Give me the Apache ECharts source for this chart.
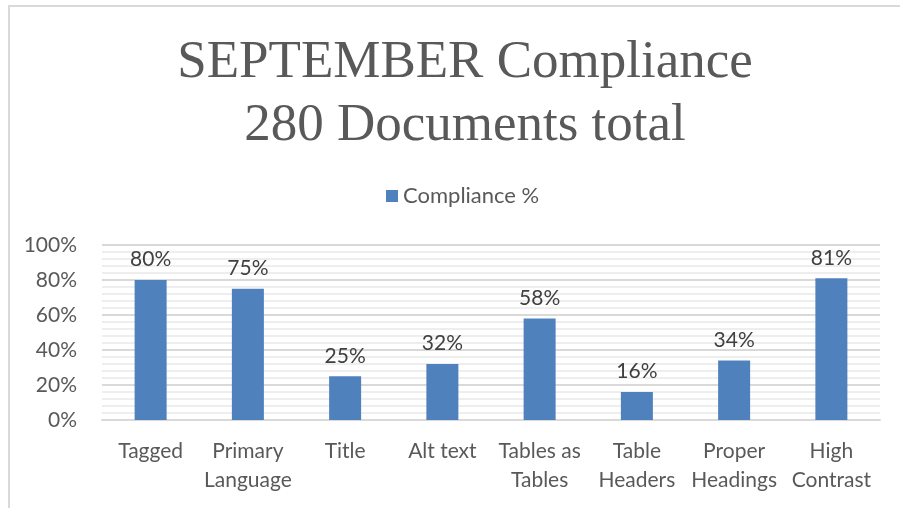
<!DOCTYPE html>
<html>
<meta charset="utf-8" />
<head>
  <script src="https://cdn.jsdelivr.net/npm/echarts@6.0.0/dist/echarts.min.js"></script>
  <style>
    html, body { margin: 0; padding: 0; background: #fff; }
    #chart { width: 900px; height: 508px; }
  </style>
</head>
<body>
  <div id="chart"></div>
  <script>
    // data
    const categories = ["Tagged", "Primary\nLanguage", "Title", "Alt text", "Tables as\nTables", "Table\nHeaders", "Proper\nHeadings", "High\nContrast"];
    const compliance = [80, 75, 25, 32, 58, 16, 34, 81];
    const seriesName = "Compliance %";
    const titleLines = ["SEPTEMBER Compliance", "280 Documents total"];

    const labelFont = "Lato, 'Open Sans', sans-serif";
    const myChart = echarts.init(document.getElementById("chart"));
    const option = {
      animation: false,
      textStyle: { fontFamily: labelFont },
      graphic: [{
        type: "rect",
        shape: { x: 9, y: 6, width: 900, height: 520 },
        style: { fill: "none", stroke: "#d9d9d9", lineWidth: 2 },
        silent: true
      }],
      title: {
        text: titleLines.join("\n"),
        left: 460,
        top: 27,
        textAlign: "center",
        textStyle: {
          fontFamily: "'Liberation Serif', serif",
          fontWeight: "normal",
          fontSize: 53,
          lineHeight: 63,
          color: "#595959"
        }
      },
      legend: {
        data: [seriesName],
        top: 180,
        left: 381,
        itemWidth: 12,
        itemHeight: 12,
        itemGap: 8,
        icon: "rect",
        textStyle: { fontSize: 22, color: "#595959", fontFamily: labelFont }
      },
      grid: { left: 102, right: 20, top: 245, bottom: 88, containLabel: false },
      xAxis: {
        type: "category",
        data: categories,
        axisTick: { show: false },
        axisLine: { lineStyle: { color: "#d9d9d9", width: 2 } },
        axisLabel: {
          interval: 0,
          fontSize: 21,
          lineHeight: 29,
          color: "#595959",
          margin: 17
        }
      },
      yAxis: {
        type: "value",
        min: 0,
        max: 100,
        interval: 20,
        axisLine: { show: false },
        axisTick: { show: false },
        axisLabel: {
          formatter: (v) => v + "%",
          fontSize: 21,
          color: "#595959",
          margin: 25
        },
        splitLine: { lineStyle: { color: "#d9d9d9", width: 2 } },
        minorTick: { show: false, splitNumber: 5 },
        minorSplitLine: { show: true, lineStyle: { color: "#eeeeee", width: 2 } }
      },
      series: [{
        name: seriesName,
        type: "bar",
        data: compliance,
        barWidth: 32,
        itemStyle: { color: "#4f81bd" },
        label: {
          show: true,
          position: "top",
          distance: 10,
          formatter: (p) => p.value + "%",
          fontSize: 21,
          color: "#404040"
        }
      }]
    };
    myChart.setOption(option);
  </script>
</body>
</html>
